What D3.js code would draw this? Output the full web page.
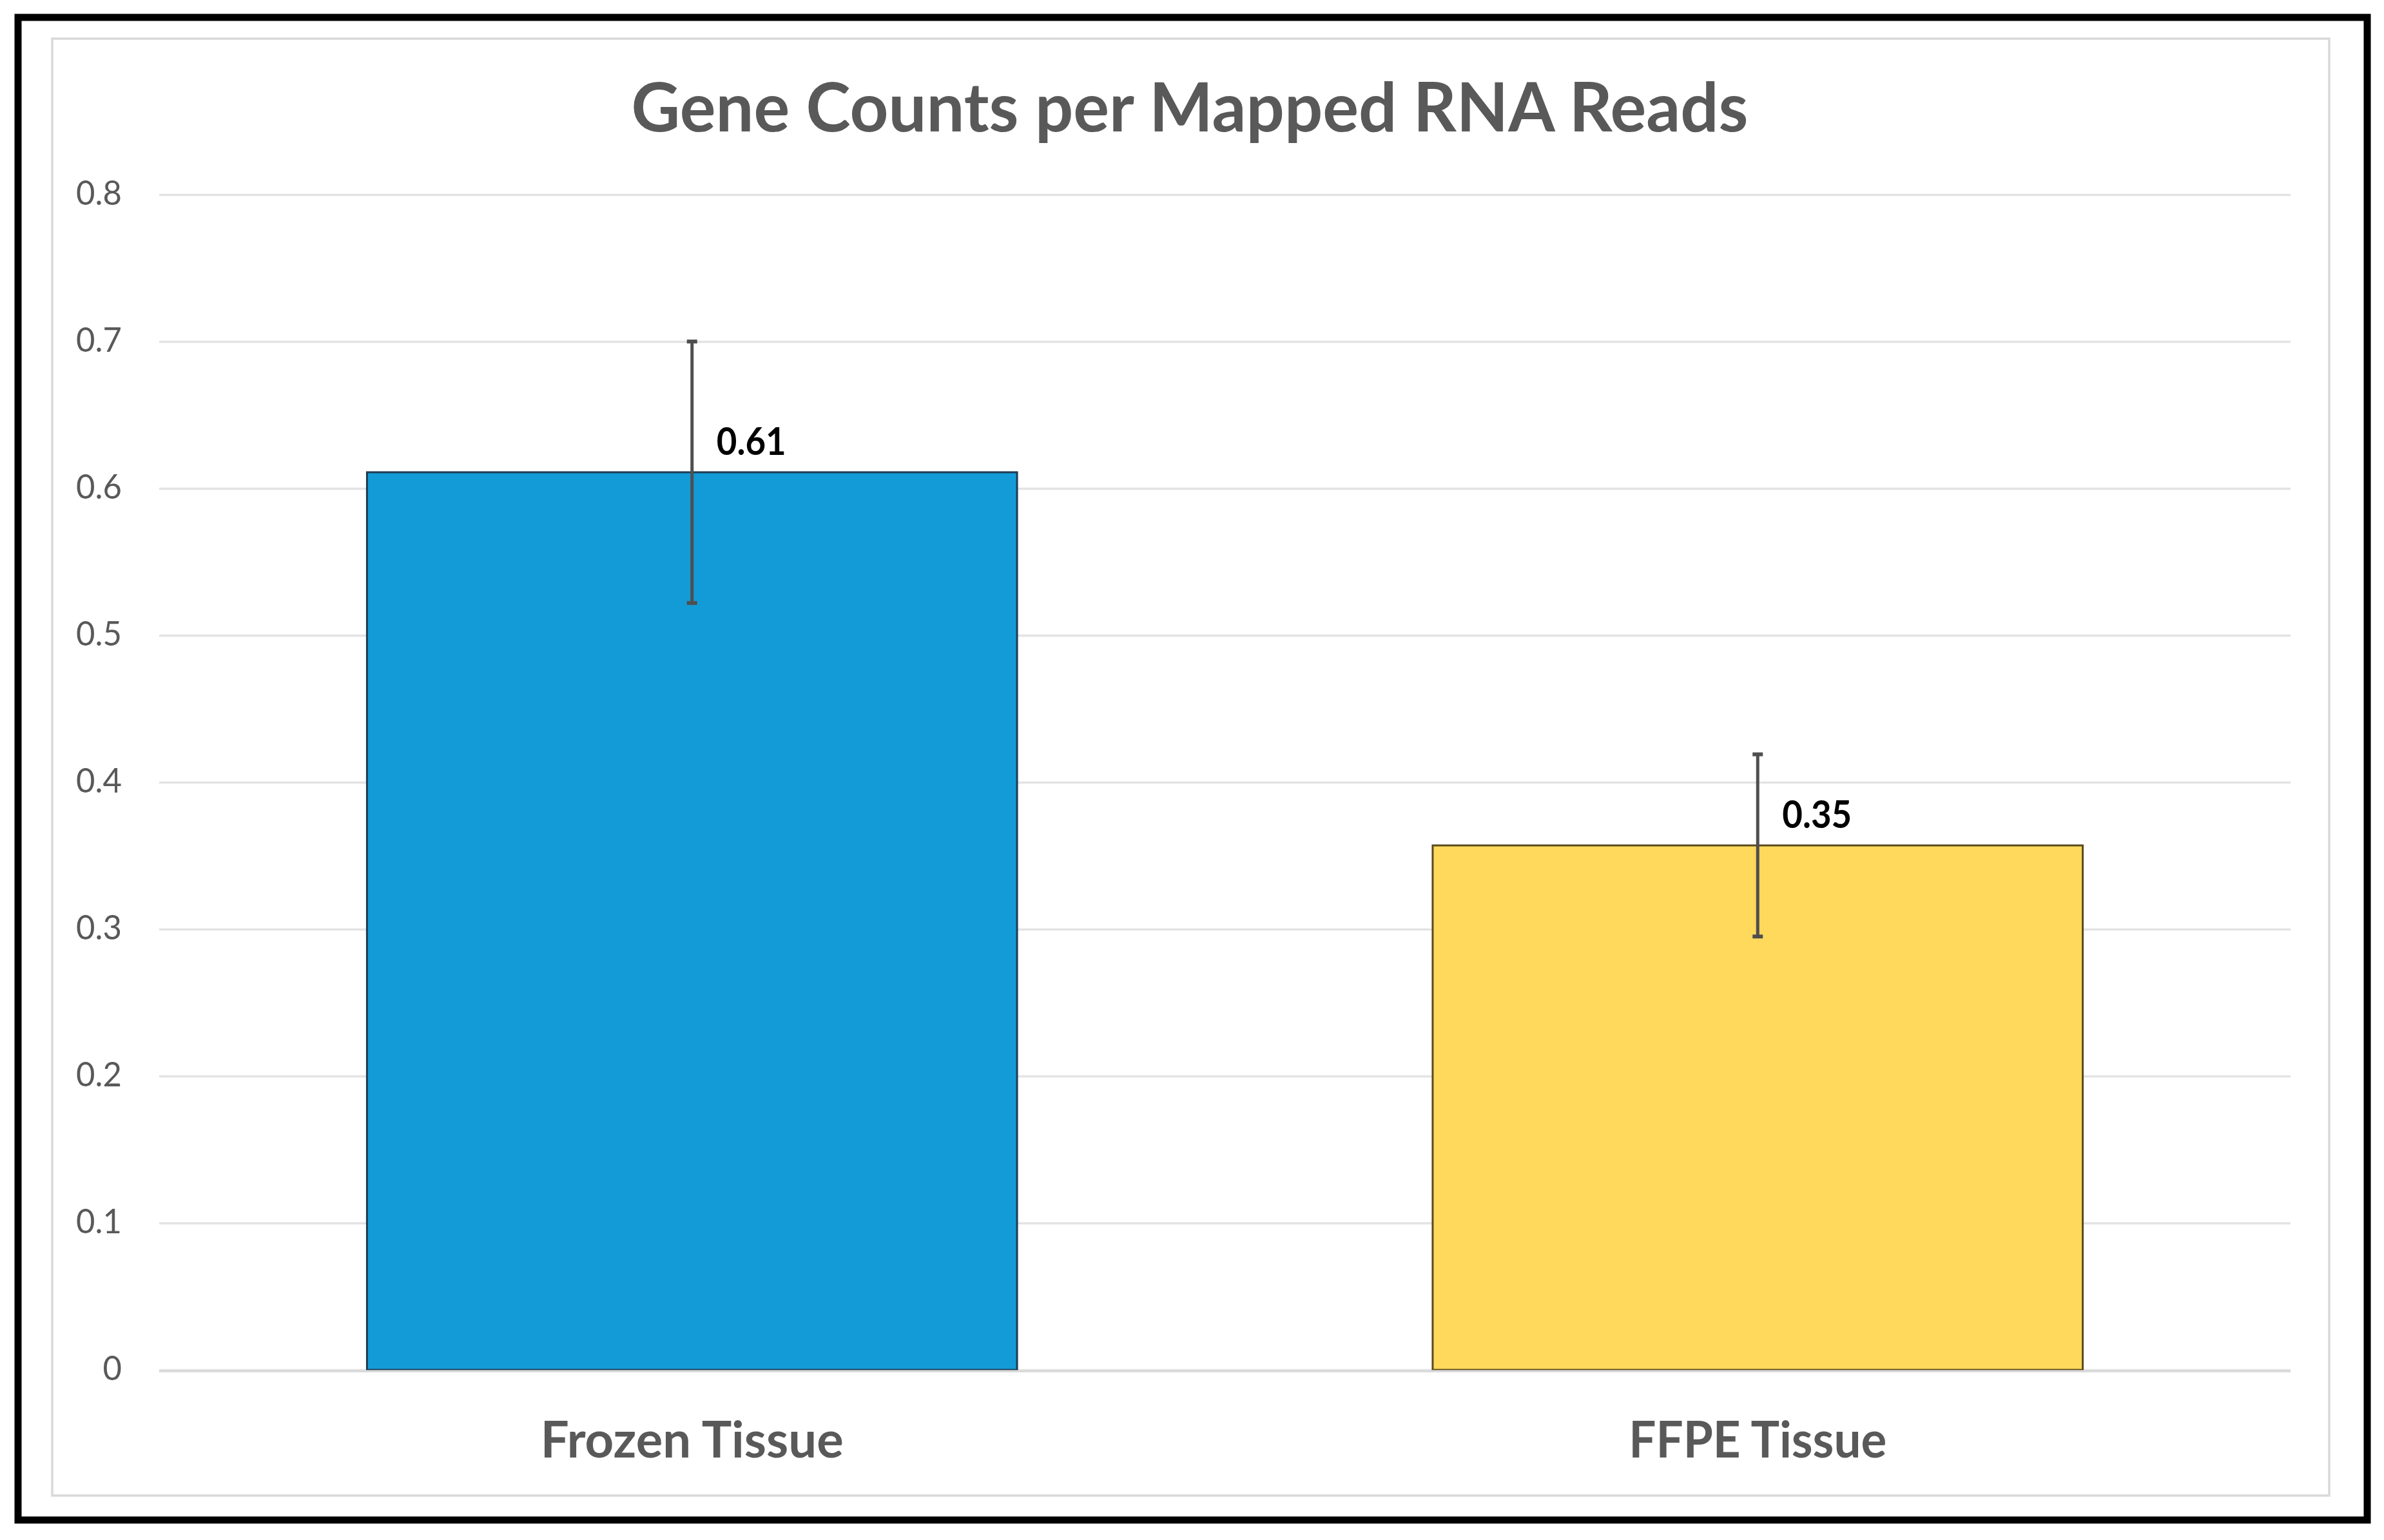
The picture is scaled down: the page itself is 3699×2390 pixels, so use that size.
<!DOCTYPE html>
<html>
<head>
<meta charset="utf-8">
<script src="https://cdn.jsdelivr.net/npm/d3@7/dist/d3.min.js"></script>
<style>
  html, body { margin: 0; padding: 0; background: #ffffff; }
  svg { display: block; }
</style>
</head>
<body>
<svg id="chart" width="3699" height="2390"></svg>
<script>
// ---- data ----
const titleText = "Gene Counts per Mapped RNA Reads";
const categories = ["Frozen Tissue", "FFPE Tissue"];
const values = [0.611, 0.357];
const errors = [0.089, 0.062];
const valueLabels = ["0.61", "0.35"];
const barColors = ["#139bd8", "#ffd95c"];
const tickValues = [0, 0.1, 0.2, 0.3, 0.4, 0.5, 0.6, 0.7, 0.8];
const tickLabels = ["0", "0.1", "0.2", "0.3", "0.4", "0.5", "0.6", "0.7", "0.8"];

// ---- layout ----
const W = 3699, H = 2390;
const plot = { left: 247, right: 3554, top: 302, bottom: 2126 };
const FONT = "Lato, 'Open Sans', 'DejaVu Sans', sans-serif";

const svg = d3.select("#chart");
svg.append("rect").attr("x", 0).attr("y", 0).attr("width", W).attr("height", H).attr("fill", "#ffffff");

// outer black frame
svg.append("rect")
  .attr("x", 28).attr("y", 27).attr("width", 3673 - 28).attr("height", 2359 - 27)
  .attr("fill", "none").attr("stroke", "#000000").attr("stroke-width", 11);

// inner light-gray chart area border
svg.append("rect")
  .attr("x", 81).attr("y", 60).attr("width", 3614 - 81).attr("height", 2321 - 60)
  .attr("fill", "#ffffff").attr("stroke", "#d9d9d9").attr("stroke-width", 3.5);

const x = d3.scaleBand()
  .domain(categories)
  .range([plot.left, plot.right])
  .paddingInner(0.39)
  .paddingOuter(0.195);

const y = d3.scaleLinear().domain([0, 0.8]).range([plot.bottom, plot.top]);

// squeeze text horizontally to a target width (Calibri-like narrow look)
function squeeze(node, targetWidth) {
  const w = node.getComputedTextLength();
  if (w > targetWidth) {
    node.setAttribute("textLength", targetWidth);
    node.setAttribute("lengthAdjust", "spacingAndGlyphs");
  } else if (w > 0) {
    const fs = parseFloat(node.getAttribute("font-size"));
    node.setAttribute("font-size", (fs * targetWidth / w).toFixed(2));
  }
}

// gridlines + y labels via axis
const yAxis = d3.axisLeft(y)
  .tickValues(tickValues)
  .tickSize(-(plot.right - plot.left))
  .tickPadding(58)
  .tickFormat((d, i) => tickLabels[i]);

const gy = svg.append("g")
  .attr("transform", `translate(${plot.left},0)`)
  .call(yAxis);
gy.select(".domain").remove();
gy.selectAll(".tick line").attr("stroke", "#e3e3e3").attr("stroke-width", 3.5);
gy.selectAll(".tick text")
  .attr("font-family", FONT)
  .attr("font-size", 53)
  .attr("fill", "#595959")
  .attr("dy", "0.3em")
  .attr("x", -58);
{
  const t = gy.selectAll(".tick text").filter((d, i) => i === tickValues.length - 1).node();
  const w = t.getComputedTextLength();
  if (w > 71) {
    const k = 71 / w;
    gy.selectAll(".tick text").each(function() {
      const ww = this.getComputedTextLength();
      this.setAttribute("textLength", ww * k);
      this.setAttribute("lengthAdjust", "spacingAndGlyphs");
    });
  }
}

// bars
const bars = svg.append("g");
bars.selectAll("rect")
  .data(categories)
  .join("rect")
  .attr("x", d => x(d))
  .attr("width", x.bandwidth())
  .attr("y", (d, i) => y(values[i]))
  .attr("height", (d, i) => y(0) - y(values[i]))
  .attr("fill", (d, i) => barColors[i])
  .attr("stroke", (d, i) => i === 0 ? "#1f3b52" : "#5b4a1e")
  .attr("stroke-width", 3);

// baseline (light axis line at 0)
svg.append("line")
  .attr("x1", plot.left).attr("x2", plot.right)
  .attr("y1", y(0) + 2).attr("y2", y(0) + 2)
  .attr("stroke", "#d9d9d9").attr("stroke-width", 3.5);

// error bars
const eb = svg.append("g");
categories.forEach((c, i) => {
  const cx = x(c) + x.bandwidth() / 2;
  const hi = y(values[i] + errors[i]);
  const lo = y(values[i] - errors[i]);
  eb.append("line")
    .attr("x1", cx).attr("x2", cx).attr("y1", hi).attr("y2", lo)
    .attr("stroke", "#4f4f4f").attr("stroke-width", 5);
  [hi, lo].forEach(yy => {
    eb.append("line")
      .attr("x1", cx - 8).attr("x2", cx + 8).attr("y1", yy).attr("y2", yy)
      .attr("stroke", "#4f4f4f").attr("stroke-width", 6);
  });
});

// value labels
const vl = svg.append("g");
categories.forEach((c, i) => {
  const cx = x(c) + x.bandwidth() / 2;
  const t = vl.append("text")
    .attr("x", cx + 38)
    .attr("y", y(values[i]) - 27)
    .attr("font-family", FONT)
    .attr("font-weight", 700)
    .attr("font-size", 60)
    .attr("fill", "#000000")
    .text(valueLabels[i]);
  squeeze(t.node(), 108);
});

// x category labels
const xl = svg.append("g");
const xTargets = [470, 400];
categories.forEach((c, i) => {
  const t = xl.append("text")
    .attr("x", x(c) + x.bandwidth() / 2)
    .attr("y", 2262)
    .attr("text-anchor", "middle")
    .attr("font-family", FONT)
    .attr("font-weight", 700)
    .attr("font-size", 78)
    .attr("fill", "#595959")
    .text(c);
  squeeze(t.node(), xTargets[i]);
});

// title
const title = svg.append("text")
  .attr("x", 1846)
  .attr("y", 204)
  .attr("text-anchor", "middle")
  .attr("font-family", FONT)
  .attr("font-weight", 700)
  .attr("font-size", 98)
  .attr("fill", "#595959")
  .text(titleText);
squeeze(title.node(), 1733);
</script>
</body>
</html>
